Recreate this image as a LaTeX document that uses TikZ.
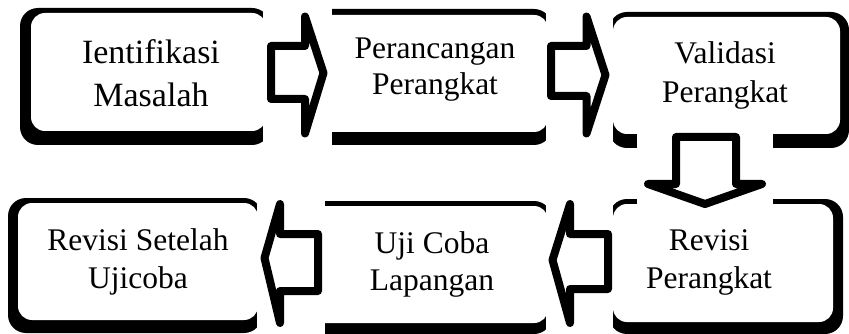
\documentclass[tikz,border=0pt]{standalone}
\usepackage{fontspec}
\setmainfont{Liberation Serif}
\tikzset{
  boxtext/.style={align=center, inner sep=0pt, text=black},
  blockarrow/.style={draw=black, fill=white, line width=8pt, line join=round},
  gapframe/.style={fill=white},
}
\newcommand{\roundshadow}[8]{%
  \fill[black, rounded corners=18pt] (#1,#2) rectangle (#3,#4);
  \fill[white, rounded corners=14pt] ({#1+#5},{#2+#6}) rectangle ({#3-#7},{#4-#8});
}
\begin{document}
\begin{tikzpicture}[x=1pt,y=-1pt]
\useasboundingbox[fill=white] (0,0) rectangle (849,334);
% boxes (outer extents, insets L T R B)
\roundshadow{20}{8}{270}{145}{11}{5}{4}{14}
\roundshadow{295}{9}{552}{145}{4}{6}{4}{13}
\roundshadow{609}{12}{849}{148}{4}{5}{9}{14}
\roundshadow{609}{199}{843}{334}{4}{5}{10}{12}
\roundshadow{290}{201}{552}{334}{4}{5}{4}{11}
\roundshadow{8}{198}{262}{333}{10}{5}{4}{13}
% white frames of the block arrows
\fill[gapframe] (263,0) rectangle (332,150);
\fill[gapframe] (546,0) rectangle (613,150);
\fill[gapframe] (546,195) rectangle (613,334);
\fill[gapframe] (257,195) rectangle (325,334);
\fill[gapframe] (637,128) rectangle (773,210);
% block arrows
\draw[blockarrow] (271,46) -- (305,46) -- (305,16.5) -- (323.5,73) -- (305,133.5) -- (305,99) -- (271,99) -- cycle;
\draw[blockarrow] (551,46) -- (586.5,46) -- (586.5,16.5) -- (605.5,75) -- (586.5,133.5) -- (586.5,96) -- (551,96) -- cycle;
\draw[blockarrow] (676,137) -- (736,137) -- (736,184) -- (762,184) -- (705,204) -- (648,184) -- (676,184) -- cycle;
\draw[blockarrow] (608,234) -- (570,234) -- (570,204) -- (552.5,260) -- (570,323) -- (570,289) -- (608,289) -- cycle;
\draw[blockarrow] (318,234) -- (280,234) -- (280,204) -- (264.5,258) -- (280,323) -- (280,291) -- (318,291) -- cycle;
% texts
\node[boxtext, font=\fontsize{34pt}{43pt}\selectfont] (b1) at (151,73.5) {Ientifikasi\\Masalah};
\node[boxtext, font=\fontsize{31.5pt}{36pt}\selectfont] (b2) at (435,69.7) {Perancangan\\Perangkat};
\node[boxtext, font=\fontsize{31.5pt}{39pt}\selectfont] (b3) at (725,75) {Validasi\\Perangkat};
\node[boxtext, font=\fontsize{31.5pt}{38pt}\selectfont] (b4) at (709,262) {Revisi\\Perangkat};
\node[boxtext, font=\fontsize{31.5pt}{37pt}\selectfont] (b5) at (432,264) {Uji Coba\\Lapangan};
\node[boxtext, font=\fontsize{31.5pt}{38pt}\selectfont] (b6) at (138,262) {Revisi Setelah\\Ujicoba};
\end{tikzpicture}
\end{document}
